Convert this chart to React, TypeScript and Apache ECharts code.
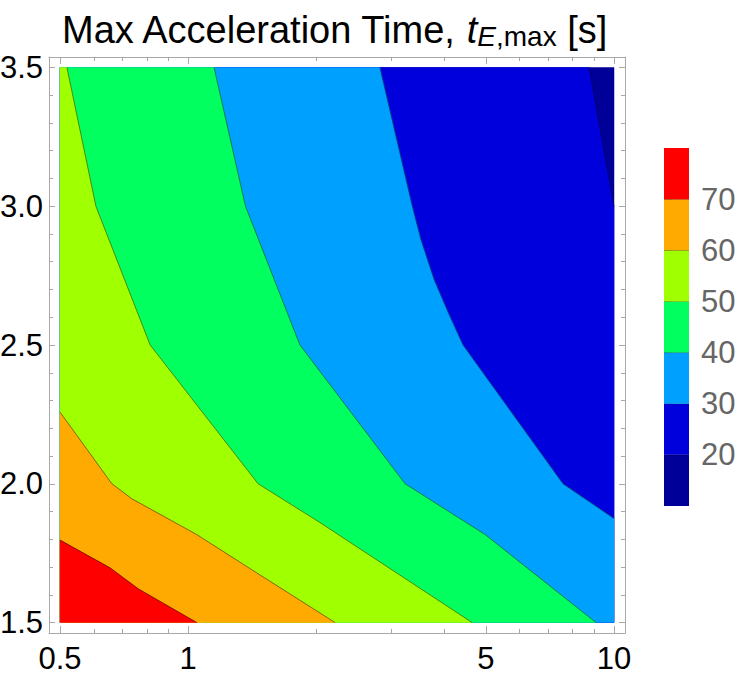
import React, { useEffect, useRef } from "react";
import * as echarts from "echarts";

// ---- data domain ----
const X_MIN = 0.5;
const X_MAX = 10;
const Y_MIN = 1.5;
const Y_MAX = 3.5;

// contour levels and band colours (band i spans levels[i]..levels[i+1])
const levels = [10, 20, 30, 40, 50, 60, 70, 80];
const bandColors = ["#000099", "#0000dd", "#00a0ff", "#00ff5f", "#a0ff00", "#ffaa00", "#ff0000"];

// contour lines [x, y], ordered from top/left edge to bottom/right edge
const contour20 = [[8.74, 3.5], [10, 3.0]];
const contour30 = [[2.82, 3.5], [3.36, 3.0], [3.52, 2.88], [3.78, 2.736], [4.08, 2.617], [4.42, 2.5], [7.59, 2.0], [10, 1.875]];
const contour40 = [[1.15, 3.5], [1.363, 3.0], [1.83, 2.5], [3.231, 2.0], [4.98, 1.817], [9.07, 1.5]];
const contour50 = [[0.519, 3.5], [0.607, 3.0], [0.814, 2.5], [1.459, 2.0], [2.04, 1.86], [4.64, 1.5]];
const contour60 = [[0.5, 2.258], [0.661, 2.001], [0.737, 1.946], [1.047, 1.817], [1.448, 1.679], [2.212, 1.5]];
const contour70 = [[0.5, 1.797], [0.655, 1.697], [0.764, 1.621], [1.047, 1.5]];

// ---- ticks ----
const xMajorTicks = [0.5, 1, 5, 10];
const xMinorTicks = [0.6, 0.7, 0.8, 0.9, 2, 3, 4, 6, 7, 8, 9];
const yMajorTicks = [1.5, 2, 2.5, 3, 3.5];
const yMinorTicks = [1.6, 1.7, 1.8, 1.9, 2.1, 2.2, 2.3, 2.4, 2.6, 2.7, 2.8, 2.9, 3.1, 3.2, 3.3, 3.4];
const barTicks = [20, 30, 40, 50, 60, 70];

const FONT = "'Liberation Sans', Arial, Helvetica, sans-serif";
const FRAME = "#a8a8a8";
const LINE = "rgba(0,0,0,0.45)";

// axis ranges with Mathematica-style padding around the data domain
const X_AXIS_MIN = 0.471;
const X_AXIS_MAX = 10.613;
const Y_AXIS_MIN = 1.4622;
const Y_AXIS_MAX = 3.5378;

function buildOption() {
  const lowerContours: (number[][] | null)[] = [null, contour20, contour30, contour40, contour50, contour60, contour70];

  const xAxisBase = (position: string, ticks: number[], len: number, labels: boolean, line: boolean) => ({
    type: "log",
    logBase: 10,
    gridIndex: 0,
    position,
    min: X_AXIS_MIN,
    max: X_AXIS_MAX,
    splitLine: { show: false },
    axisLine: { show: line, onZero: false, lineStyle: { color: FRAME, width: 1 } },
    axisTick: { show: true, inside: true, length: len, customValues: ticks, lineStyle: { color: FRAME, width: 1 } },
    axisLabel: labels
      ? {
          show: true,
          customValues: ticks,
          margin: 10,
          fontSize: 31,
          fontFamily: FONT,
          color: "#000",
          formatter: (v: number) => String(+Number(v).toPrecision(4)),
        }
      : { show: false },
  });

  const yAxisBase = (position: string, ticks: number[], len: number, labels: boolean, line: boolean) => ({
    type: "value",
    gridIndex: 0,
    position,
    min: Y_AXIS_MIN,
    max: Y_AXIS_MAX,
    splitLine: { show: false },
    axisLine: { show: line, onZero: false, lineStyle: { color: FRAME, width: 1 } },
    axisTick: { show: true, inside: true, length: len, customValues: ticks, lineStyle: { color: FRAME, width: 1 } },
    axisLabel: labels
      ? {
          show: true,
          customValues: ticks,
          margin: 6,
          fontSize: 31,
          fontFamily: FONT,
          color: "#000",
          formatter: (v: number) => Number(v).toFixed(1),
        }
      : { show: false },
  });

  const bandData = bandColors.map((_, i) => [1, 2.5, i]);
  const barData = bandColors.map((_, i) => [0.5, (levels[i] + levels[i + 1]) / 2, i]);

  return {
    animation: false,
    backgroundColor: "#ffffff",
    grid: [
      { left: 49, top: 57, width: 576, height: 576, containLabel: false, outerBoundsMode: "none" },
      { left: 664, top: 148, width: 25, height: 358, containLabel: false, outerBoundsMode: "none" },
    ],
    xAxis: [
      xAxisBase("bottom", xMajorTicks, 7, true, true),
      xAxisBase("bottom", xMinorTicks, 4, false, false),
      xAxisBase("top", xMajorTicks, 7, false, true),
      xAxisBase("top", xMinorTicks, 4, false, false),
      { type: "value", gridIndex: 1, min: 0, max: 1, show: false },
    ],
    yAxis: [
      yAxisBase("left", yMajorTicks, 6, true, true),
      yAxisBase("left", yMinorTicks, 4, false, false),
      yAxisBase("right", yMajorTicks, 6, false, true),
      yAxisBase("right", yMinorTicks, 4, false, false),
      {
        type: "value",
        gridIndex: 1,
        position: "right",
        min: levels[0],
        max: levels[levels.length - 1],
        splitLine: { show: false },
        axisLine: { show: false },
        axisTick: { show: true, inside: false, length: 7, customValues: barTicks, lineStyle: { color: FRAME, width: 1 } },
        axisLabel: { show: true, customValues: barTicks, margin: 12, fontSize: 31, fontFamily: FONT, color: "#666666" },
      },
    ],
    graphic: [
      {
        type: "text",
        x: 334,
        y: 30,
        silent: true,
        style: {
          text: "{m|Max Acceleration Time, }{t|t}{s|E}{n|,max}{m| [s]}",
          align: "center",
          verticalAlign: "middle",
          fill: "#000",
          font: `38px ${FONT}`,
          rich: {
            m: { fontSize: 38, fontFamily: FONT, fill: "#000", lineHeight: 44 },
            t: { fontSize: 38, fontFamily: FONT, fontStyle: "italic", fill: "#000", lineHeight: 44 },
            s: { fontSize: 28, fontFamily: FONT, fontStyle: "italic", fill: "#000", lineHeight: 28, padding: [13, 0, 0, 0] },
            n: { fontSize: 28, fontFamily: FONT, fill: "#000", lineHeight: 28, padding: [13, 0, 0, 0] },
          },
        },
      },
    ],
    series: [
      {
        type: "custom",
        xAxisIndex: 0,
        yAxisIndex: 0,
        silent: true,
        data: bandData,
        encode: { x: 0, y: 1 },
        renderItem: (params: any, api: any) => {
          const i = params.dataIndex;
          const line = lowerContours[i];
          let poly: number[][];
          if (!line) {
            poly = [[X_MIN, Y_MIN], [X_MAX, Y_MIN], [X_MAX, Y_MAX], [X_MIN, Y_MAX]];
          } else {
            const start = line[0];
            const end = line[line.length - 1];
            poly = line.slice();
            if (end[0] >= X_MAX && end[1] > Y_MIN) poly.push([X_MAX, Y_MIN]);
            poly.push([X_MIN, Y_MIN]);
            if (start[1] >= Y_MAX && start[0] > X_MIN) poly.push([X_MIN, Y_MAX]);
          }
          const children: any[] = [
            {
              type: "polygon",
              shape: { points: poly.map((p) => api.coord(p)) },
              style: { fill: bandColors[i], stroke: bandColors[i], lineWidth: 0.5 },
            },
          ];
          if (line) {
            children.push({
              type: "polyline",
              shape: { points: line.map((p) => api.coord(p)) },
              style: { stroke: LINE, lineWidth: 1, fill: null },
            });
          }
          return { type: "group", children };
        },
      },
      {
        type: "custom",
        xAxisIndex: 4,
        yAxisIndex: 4,
        silent: true,
        data: barData,
        encode: { x: 0, y: 1 },
        renderItem: (params: any, api: any) => {
          const i = params.dataIndex;
          const lo = levels[i];
          const hi = levels[i + 1];
          const p1 = api.coord([0, lo]);
          const p2 = api.coord([1, hi]);
          const children: any[] = [
            {
              type: "rect",
              shape: { x: p1[0], y: p2[1], width: p2[0] - p1[0], height: p1[1] - p2[1] },
              style: { fill: bandColors[i] },
            },
          ];
          if (i < bandColors.length - 1) {
            children.push({
              type: "line",
              shape: { x1: p1[0], y1: p2[1], x2: p2[0], y2: p2[1] },
              style: { stroke: LINE, lineWidth: 1 },
            });
          }
          return { type: "group", children };
        },
      },
    ],
  };
}

export default function App() {
  const ref = useRef<HTMLDivElement>(null);
  useEffect(() => {
    if (!ref.current) return;
    const chart = echarts.init(ref.current, null, { renderer: "svg" });
    chart.setOption(buildOption() as any);
    return () => {
      chart.dispose();
    };
  }, []);
  return (
    <div
      ref={ref}
      style={{ position: "absolute", left: 0, top: 0, width: 747, height: 677, background: "#ffffff" }}
    />
  );
}
